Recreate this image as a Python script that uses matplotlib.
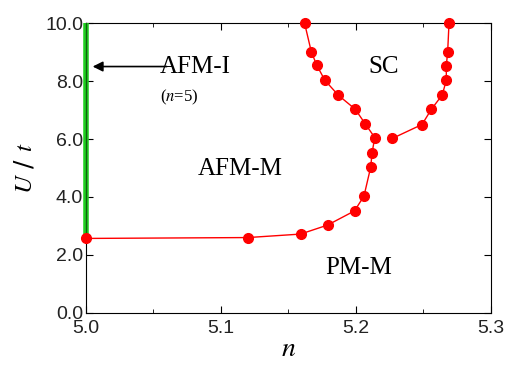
import matplotlib.pyplot as plt
from matplotlib.ticker import MultipleLocator

plt.rcParams['mathtext.fontset'] = 'stix'

# boundary AFM-M / PM-M, continuing up as the left edge of SC
n_left = [5.0, 5.12, 5.159, 5.179, 5.199, 5.206, 5.211, 5.212, 5.214,
          5.207, 5.1995, 5.187, 5.177, 5.171, 5.167, 5.162]
u_left = [2.57, 2.6, 2.72, 3.03, 3.52, 4.03, 5.03, 5.52, 6.05,
          6.52, 7.03, 7.51, 8.03, 8.55, 9.01, 10.0]

# right edge of SC
n_right = [5.227, 5.249, 5.256, 5.264, 5.267, 5.267, 5.268, 5.269]
u_right = [6.02, 6.5, 7.03, 7.52, 8.03, 8.53, 9.01, 10.0]

# AFM-I line at n=5
n_afmi = [5.0, 5.0]
u_afmi = [2.57, 10.0]

fig = plt.figure(figsize=(5.14, 3.66), dpi=100)
ax = fig.add_axes([0.167, 0.145, 0.788, 0.792])

ax.plot(n_afmi, u_afmi, color='#1fd01f', lw=4, solid_capstyle='butt', zorder=4, clip_on=False)
ax.plot(n_afmi, u_afmi, color='#106010', lw=1, zorder=4, clip_on=False)
ax.plot(n_left, u_left, '-o', color='#ff0000', lw=1, ms=7, zorder=5, clip_on=False)
ax.plot(n_right, u_right, '-o', color='#ff0000', lw=1, ms=7, zorder=5, clip_on=False)

serif = 'Liberation Serif'
ax.annotate('', xy=(5.003, 8.5), xytext=(5.062, 8.5),
            arrowprops=dict(arrowstyle='-|>', color='black', lw=1.2, mutation_scale=15))
ax.text(5.055, 8.5, 'AFM-I', family=serif, fontsize=18, va='center', ha='left')
ax.text(5.055, 7.45, '($n$=5)', family=serif, fontsize=12, va='center', ha='left')
ax.text(5.083, 4.95, 'AFM-M', family=serif, fontsize=18, va='center', ha='left')
ax.text(5.209, 8.5, 'SC', family=serif, fontsize=18, va='center', ha='left')
ax.text(5.177, 1.55, 'PM-M', family=serif, fontsize=18, va='center', ha='left')

ax.set_xlim(5.0, 5.3)
ax.set_ylim(0.0, 10.0)
ax.xaxis.set_major_locator(MultipleLocator(0.1))
ax.xaxis.set_minor_locator(MultipleLocator(0.05))
ax.yaxis.set_major_locator(MultipleLocator(2.0))
ax.xaxis.set_major_formatter(plt.FormatStrFormatter('%.1f'))
ax.yaxis.set_major_formatter(plt.FormatStrFormatter('%.1f'))
ax.tick_params(which='both', direction='in', top=True, right=True, labelsize=14)
ax.tick_params(axis='x', pad=5)
ax.tick_params(axis='y', pad=2)
ax.tick_params(which='major', length=5)
ax.tick_params(which='minor', length=3)
for lab in ax.get_xticklabels() + ax.get_yticklabels():
    lab.set_family('Liberation Sans')
    lab.set_color('#222222')

ax.set_xlabel('$n$', fontsize=20, labelpad=-2)
ax.set_ylabel('$U$ / $t$', fontsize=18, labelpad=6)

plt.savefig('out.png', dpi=100)
